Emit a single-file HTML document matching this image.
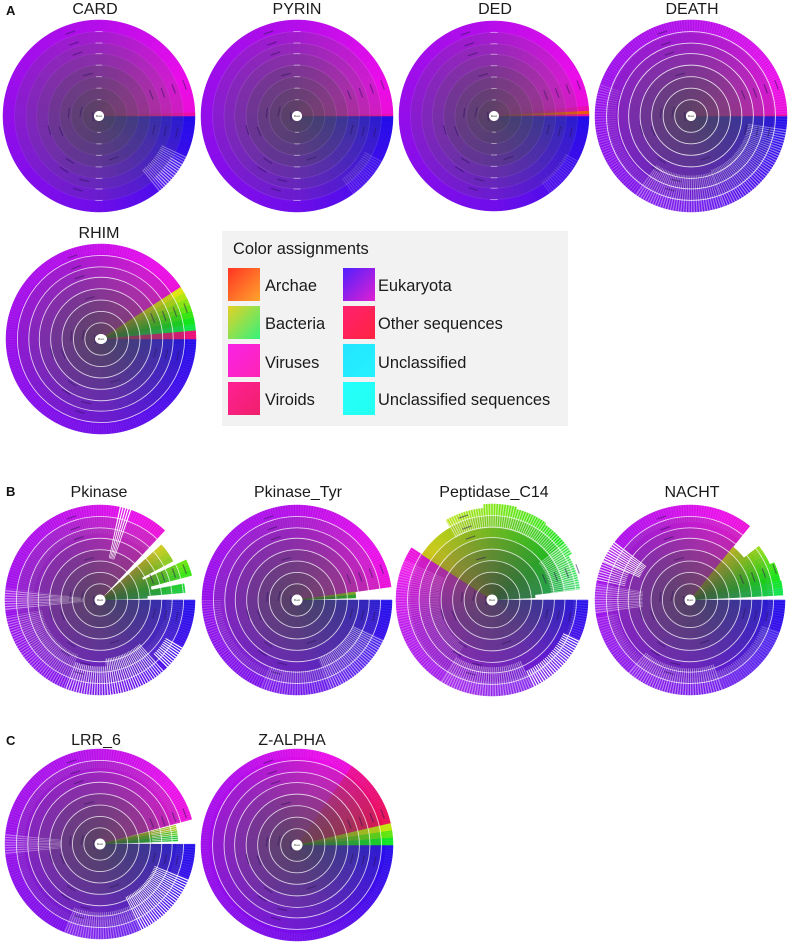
<!DOCTYPE html>
<html lang="en">
<head>
<meta charset="utf-8">
<title>Domain taxonomy sunbursts</title>
<style>
html,body{margin:0;padding:0;background:#fff;}
#page{position:relative;width:788px;height:944px;overflow:hidden;background:#fff;font-family:"Liberation Sans",sans-serif;color:#1a1a1a;}
#charts{position:absolute;left:0;top:0;}
.title{font-family:"Liberation Sans",sans-serif;font-size:16px;fill:#1a1a1a;text-anchor:middle;}
.panel{font-family:"Liberation Sans",sans-serif;font-size:13px;font-weight:bold;fill:#111;}
.hole-text{font-family:"Liberation Sans",sans-serif;font-size:3px;fill:#333;text-anchor:middle;}
#legend{position:absolute;left:222px;top:231px;width:346px;height:195px;background:#f2f2f2;}
#legend .ltitle{position:absolute;left:11px;top:8px;font-size:16.4px;line-height:20px;white-space:nowrap;}
#legend .sw{position:absolute;width:32px;height:33px;}
#legend .lb{position:absolute;font-size:16.4px;line-height:20px;white-space:nowrap;}
</style>
</head>
<body>
<div id="page">
<svg id="charts" width="788" height="944" viewBox="0 0 788 944" xmlns="http://www.w3.org/2000/svg">
  <defs><filter id="soft" x="-5%" y="-5%" width="110%" height="110%"><feGaussianBlur stdDeviation="0.35"/></filter></defs>
  <text class="panel" x="6" y="15">A</text>
  <text class="panel" x="6" y="496">B</text>
  <text class="panel" x="6" y="745">C</text>

  <text class="title" x="95" y="14">CARD</text>
  <text class="title" x="297" y="14">PYRIN</text>
  <text class="title" x="495" y="14">DED</text>
  <text class="title" x="692" y="14">DEATH</text>
  <text class="title" x="99" y="238">RHIM</text>
  <text class="title" x="99" y="497">Pkinase</text>
  <text class="title" x="298" y="497">Pkinase_Tyr</text>
  <text class="title" x="494" y="497">Peptidase_C14</text>
  <text class="title" x="692" y="497">NACHT</text>
  <text class="title" x="96" y="745">LRR_6</text>
  <text class="title" x="292" y="745">Z-ALPHA</text>

  <g class="sb" data-chart="CARD" data-cx="99" data-cy="116" data-r="96" data-ring="0.06" data-hx="3.5" data-hy="5"></g>
  <g class="sb" data-chart="PYRIN" data-cx="297" data-cy="116" data-r="96" data-ring="0.1" data-hx="4" data-hy="5"></g>
  <g class="sb" data-chart="DED" data-cx="494" data-cy="116" data-r="95" data-ring="0.08" data-hx="4" data-hy="5"></g>
  <g class="sb" data-chart="DEATH" data-cx="691" data-cy="116" data-r="96" data-ring="0.8" data-hx="5" data-hy="4.5"></g>
  <g class="sb" data-chart="RHIM" data-cx="101" data-cy="339" data-r="95" data-ring="0.75" data-hx="6" data-hy="5"></g>
  <g class="sb" data-chart="Pkinase" data-cx="100" data-cy="600" data-r="95" data-ring="0.75" data-hx="5.5" data-hy="5.5"></g>
  <g class="sb" data-chart="Pkinase_Tyr" data-cx="297" data-cy="600" data-r="95" data-ring="0.75" data-hx="5.5" data-hy="5.5"></g>
  <g class="sb" data-chart="Peptidase_C14" data-cx="492" data-cy="600" data-r="96" data-ring="0.75" data-hx="5.5" data-hy="5.5"></g>
  <g class="sb" data-chart="NACHT" data-cx="690" data-cy="600" data-r="95" data-ring="0.75" data-hx="5.5" data-hy="5.5"></g>
  <g class="sb" data-chart="LRR_6" data-cx="100" data-cy="844" data-r="95" data-ring="0.75" data-hx="5.5" data-hy="5.5"></g>
  <g class="sb" data-chart="Z-ALPHA" data-cx="297" data-cy="845" data-r="96" data-ring="0.75" data-hx="5.5" data-hy="5.5"></g>
</svg>

<div id="legend">
  <div class="ltitle">Color assignments</div>
  <div class="sw" style="left:6px;top:37px;background:linear-gradient(135deg,#ff3424,#ffa42c)"></div>
  <div class="lb" style="left:43px;top:45px">Archae</div>
  <div class="sw" style="left:6px;top:75px;background:linear-gradient(135deg,#e6d024,#34f27c)"></div>
  <div class="lb" style="left:43px;top:83px">Bacteria</div>
  <div class="sw" style="left:6px;top:113px;background:linear-gradient(135deg,#f822e6,#ff24b4)"></div>
  <div class="lb" style="left:43px;top:122px">Viruses</div>
  <div class="sw" style="left:6px;top:151px;background:linear-gradient(135deg,#ff2094,#f0206c)"></div>
  <div class="lb" style="left:43px;top:159px">Viroids</div>
  <div class="sw" style="left:121px;top:37px;background:linear-gradient(135deg,#5020ff,#e020d0)"></div>
  <div class="lb" style="left:156px;top:45px">Eukaryota</div>
  <div class="sw" style="left:121px;top:75px;background:linear-gradient(135deg,#ff2070,#ff2440)"></div>
  <div class="lb" style="left:156px;top:83px">Other sequences</div>
  <div class="sw" style="left:121px;top:113px;background:linear-gradient(135deg,#24e4ff,#24f2ff)"></div>
  <div class="lb" style="left:156px;top:122px">Unclassified</div>
  <div class="sw" style="left:121px;top:151px;background:linear-gradient(135deg,#24ffff,#24fff0)"></div>
  <div class="lb" style="left:156px;top:159px">Unclassified sequences</div>
</div>
</div>

<script>
// Taxon spans: [taxon, degrees swept clockwise from east, depth reached (0-1)]
const spansCARD = [['Eukaryota',358,1],['Viruses',2,1]];
const spansPYRIN = [['Eukaryota',359,1],['Viruses',1,1]];
const spansDED = [['Eukaryota',354,1],['Viruses',3,1],['Archae',2,1],['Viruses',1,1]];
const spansDEATH = [['Eukaryota',359,1],['Viruses',1,1]];
const spansRHIM = [['Eukaryota',327,1],['Bacteria',28,1],['Viroids',5,1]];
const spansPkinase = [['Eukaryota',313,1],['Gap',5,1],['Bacteria',14,.87],['Bacteria',3,.5],['Bacteria',10,1],['Bacteria',4,.55],['Bacteria',6,.9],['Bacteria',3,.5],['Gap',2,1]];
const spansPkinaseTyr = [['Eukaryota',352,1],['Bacteria',6,.62],['Gap',2,1]];
const spansPeptidase = [['Eukaryota',213,1],['Bacteria',27,.87],['Bacteria',25,.96],['Bacteria',20,1],['Bacteria',20,.98],['Bacteria',25,.96],['Bacteria',23,.92],['Bacteria',4,.45]];
const spansNACHT = [['Eukaryota',309,1],['Bacteria',13,.72],['Bacteria',14,.92],['Bacteria',12,.97],['Bacteria',9,.98],['Gap',3,1]];
const spansLRR = [['Eukaryota',345,1],['Gap',1,1],['Bacteria',12,.82],['Gap',2,1]];
const spansZAlpha = [['Eukaryota',305,1],['Viroids',42,1],['Bacteria',13,1]];

// Sparse fringe: [from deg, to deg, starting depth, amount of white]
const sparseCARD = [[25,52,.72,.2],[30,48,.86,.22]];
const sparsePYRIN = [[28,55,.8,.08]];
const sparseDED = [[28,55,.85,.07]];
const sparseDEATH = [[0,360,.86,.05],[8,70,.6,.2],[70,125,.62,.2],[125,200,.78,.07]];
const sparseRHIM = [[0,360,.9,.03]];
const sparsePkinase = [[0,360,.7,.05],[30,46,.8,.5],[48,85,.62,.4],[85,112,.7,.35],[112,170,.62,.16],[174,187,.18,.25],[282,290,.45,.5]];
const sparsePkinaseTyr = [[0,360,.75,.04],[25,70,.65,.28],[70,112,.75,.18],[112,180,.8,.07]];
const sparsePeptidase = [[0,213,.85,.07],[25,65,.82,.5],[65,122,.7,.24],[122,205,.55,.1],[240,357,.75,.28],[322,357,.62,.26]];
const sparseNACHT = [[204,218,.58,.85],[192,204,.7,.35],[172,190,.5,.22],[0,360,.82,.05],[20,70,.8,.14],[70,130,.72,.22],[130,170,.78,.1]];
const sparseLRR = [[0,345,.8,.05],[22,65,.62,.48],[65,112,.72,.2],[174,186,.4,.18],[345,360,.55,.35]];
const sparseZAlpha = [[0,360,.92,.03]];

// Legible-size label marks shared by the plots: [deg, depth]
const labelMarks = [[251,.92],[251,.8],[251,.69],[255,.45],[186,.32],[193,.2],[175,.08],[164,.54],[158,.43],[123,.56],[123,.67],[103,.69],[106,.8],[71,.47],[14,.59],[13,.71],[12,.83],[338,.59],[340,.71],[340,.83],[340,.95]];

const ringDepths = [.17,.29,.41,.53,.65,.76,.88,1];
const holeDepth = .055;

const eukaryotaHueStops = [245,266,276,285,305];
const taxonHues = {Viruses:[310,325],Bacteria:[56,140],Viroids:[322,342],Archae:[10,32]};

const chartSpans = {CARD:spansCARD,PYRIN:spansPYRIN,DED:spansDED,DEATH:spansDEATH,RHIM:spansRHIM,Pkinase:spansPkinase,Pkinase_Tyr:spansPkinaseTyr,Peptidase_C14:spansPeptidase,NACHT:spansNACHT,LRR_6:spansLRR,'Z-ALPHA':spansZAlpha};
const chartSparse = {CARD:sparseCARD,PYRIN:sparsePYRIN,DED:sparseDED,DEATH:sparseDEATH,RHIM:sparseRHIM,Pkinase:sparsePkinase,Pkinase_Tyr:sparsePkinaseTyr,Peptidase_C14:sparsePeptidase,NACHT:sparseNACHT,LRR_6:sparseLRR,'Z-ALPHA':sparseZAlpha};

const NS = 'http://www.w3.org/2000/svg';
function polar(deg, rad){
  const a = deg * Math.PI / 180;
  return (rad * Math.cos(a)).toFixed(2) + ' ' + (rad * Math.sin(a)).toFixed(2);
}
function wedgePath(a0, a1, r0, r1){
  const big = a1 - a0 > 180 ? 1 : 0;
  return 'M' + polar(a0, r0) + 'L' + polar(a0, r1) + 'A' + r1 + ' ' + r1 + ' 0 ' + big + ' 1 ' + polar(a1, r1) +
         'L' + polar(a1, r0) + 'A' + r0 + ' ' + r0 + ' 0 ' + big + ' 0 ' + polar(a0, r0) + 'Z';
}
function taxonHue(taxon, frac){
  if (taxon === 'Eukaryota') {
    const pos = Math.min(.9999, frac) * (eukaryotaHueStops.length - 1);
    const i = Math.floor(pos);
    return eukaryotaHueStops[i] + (eukaryotaHueStops[i + 1] - eukaryotaHueStops[i]) * (pos - i);
  }
  const hues = taxonHues[taxon];
  return hues[0] + (hues[1] - hues[0]) * frac;
}
function cellColor(hue, depth, taxon){
  const green = taxon === 'Bacteria';
  const s = 20 + 72 * Math.pow(depth, 1.25);
  const l = (green ? 27 : 31) + (green ? 23 : 19) * Math.pow(depth, 1.1);
  return 'hsl(' + hue.toFixed(1) + ',' + s.toFixed(0) + '%,' + l.toFixed(0) + '%)';
}
function drawChart(g){
  const name = g.getAttribute('data-chart');
  const spans = chartSpans[name];
  const sparse = chartSparse[name];
  const cx = +g.getAttribute('data-cx'), cy = +g.getAttribute('data-cy'), R = +g.getAttribute('data-r');
  g.setAttribute('transform', 'translate(' + cx + ',' + cy + ')');
  const body = document.createElementNS(NS, 'g');
  body.setAttribute('filter', 'url(#soft)');
  
  
  g.appendChild(body);

  const totals = {};
  spans.forEach(function(s){ totals[s[0]] = (totals[s[0]] || 0) + s[1]; });
  const seen = {};
  let cursor = 0;
  const stepDeg = 4;
  spans.forEach(function(s){
    const taxon = s[0], sweep = s[1], reach = s[2];
    if (taxon !== 'Gap') {
      const cells = Math.max(1, Math.round(sweep / stepDeg));
      for (let c = 0; c < cells; c++) {
        const a0 = cursor + sweep * c / cells, a1 = cursor + sweep * (c + 1) / cells;
        const frac = ((seen[taxon] || 0) + (a0 + a1) / 2 - cursor) / totals[taxon];
        const hue = taxonHue(taxon, frac);
        for (let k = 0; k < ringDepths.length; k++) {
          const d0 = k === 0 ? holeDepth : ringDepths[k - 1];
          if (d0 >= reach) break;
          const d1 = Math.min(ringDepths[k], reach);
          const col = cellColor(hue, (d0 + d1) / 2, taxon);
          const p = document.createElementNS(NS, 'path');
          p.setAttribute('d', wedgePath(a0, a1, d0 * R, d1 * R));
          p.setAttribute('fill', col);
          p.setAttribute('stroke', col);
          p.setAttribute('stroke-width', '0.5');
          
          
          body.appendChild(p);
        }
      }
      seen[taxon] = (seen[taxon] || 0) + sweep;
    }
    cursor += sweep;
  });

  sparse.forEach(function(w){
    for (let a = w[0]; a < w[1]; a += 1.6) {
      const p = document.createElementNS(NS, 'path');
      p.setAttribute('d', wedgePath(a, Math.min(a + 0.75, w[1]), w[2] * R, R + 0.6));
      p.setAttribute('fill', '#fff');
      p.setAttribute('fill-opacity', Math.min(1, w[3] * 2).toFixed(2));
      
      
      body.appendChild(p);
    }
  });

  const ringAlpha = +g.getAttribute('data-ring');
  ringDepths.slice(0, -1).forEach(function(d){
    const c = document.createElementNS(NS, 'circle');
    c.setAttribute('r', (d * R).toFixed(2));
    c.setAttribute('fill', 'none');
    c.setAttribute('stroke', '#fff');
    c.setAttribute('stroke-width', '0.9');
    c.setAttribute('stroke-opacity', ringAlpha);
    
    
    body.appendChild(c);
    if (ringAlpha < .3) {
      [90, 270].forEach(function(mid){
        const half = 260 / (d * R + 20);
        const arc = document.createElementNS(NS, 'path');
        arc.setAttribute('d', 'M' + polar(mid - half, d * R) + 'A' + d * R + ' ' + d * R + ' 0 0 1 ' + polar(mid + half, d * R));
        arc.setAttribute('fill', 'none');
        arc.setAttribute('stroke', '#fff');
        arc.setAttribute('stroke-opacity', '0.45');
        
        
        body.appendChild(arc);
      });
    }
  });

  labelMarks.forEach(function(m){
    const rad = m[1] * R, half = 5 / rad * 180 / Math.PI;
    const l = document.createElementNS(NS, 'path');
    l.setAttribute('d', 'M' + polar(m[0] - half, rad) + 'L' + polar(m[0] + half, rad));
    l.setAttribute('stroke', '#2a1658');
    l.setAttribute('stroke-width', '1.2');
    l.setAttribute('stroke-opacity', '0.5');
    
    
    body.appendChild(l);
  });

  const hole = document.createElementNS(NS, 'ellipse');
  hole.setAttribute('rx', g.getAttribute('data-hx'));
  hole.setAttribute('ry', g.getAttribute('data-hy'));
  hole.setAttribute('fill', '#fff');
  
  
  g.appendChild(hole);
  const txt = document.createElementNS(NS, 'text');
  txt.setAttribute('class', 'hole-text');
  txt.setAttribute('y', '1');
  
  
  txt.textContent = 'Root';
  g.appendChild(txt);
}
document.querySelectorAll('.sb').forEach(drawChart);
</script>
</body>
</html>
